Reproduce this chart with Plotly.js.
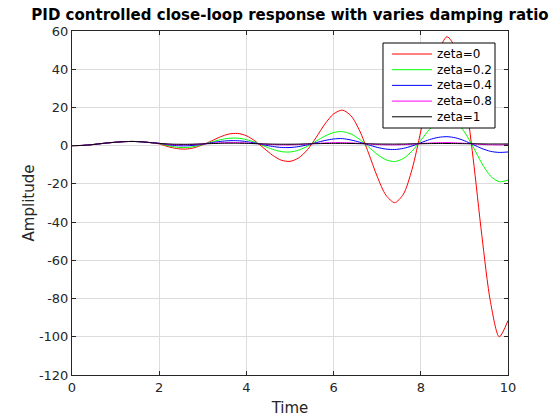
<!DOCTYPE html>
<html>
<head>
<meta charset="utf-8">
<script src="https://cdn.plot.ly/plotly-3.0.1.min.js"></script>
<style>html,body{margin:0;padding:0;background:#fff;}#chart{width:560px;height:420px;}</style>
</head>
<body>
<div id="chart"></div>
<script>
const time = [0,0.2,0.4,0.6,0.8,1.0,1.2,1.4,1.6,1.8,2.0,2.2,2.4,2.6,2.8,3.0,3.2,3.4,3.6,3.8,4.0,4.2,4.4,4.6,4.8,5.0,5.2,5.4,5.6,5.8,6.0,6.2,6.4,6.6,6.8,7.0,7.2,7.4,7.6,7.8,8.0,8.2,8.4,8.6,8.8,9.0,9.2,9.4,9.6,9.8,10.0];

const zeta0 = [0,0.1,0.4,0.9,1.4,1.8,2.1,2.2,2.0,1.6,0.9,-0.5,-1.5,-1.8,-1.1,0.5,2.5,4.6,6.1,6.4,5.2,2.4,-1.3,-5.0,-7.6,-8.2,-6.4,-2.1,4.3,11.3,16.6,18.6,15.6,7.7,-3.8,-16.1,-25.9,-29.8,-25.4,-12.3,7.6,29.8,48.5,57.0,50.8,28.6,-6.5,-47.0,-82.0,-100.0,-91.5];

const zeta02 = [0,0.1,0.4,0.9,1.4,1.8,2.1,2.2,2.0,1.6,1.1,0.0,-0.8,-1.0,-0.45,0.6,1.9,3.1,3.86,3.93,3.17,1.72,-0.14,-1.91,-3.11,-3.31,-2.34,-0.29,2.38,5.02,6.88,7.34,6.09,3.24,-0.61,-4.51,-7.39,-8.31,-6.72,-2.77,2.77,8.53,12.95,14.62,12.67,7.22,-0.7,-9.22,-15.94,-18.86,-18.0];

const zeta04 = [0,0.1,0.4,0.9,1.4,1.8,2.1,2.2,2.0,1.6,1.2,0.5,0.0,-0.1,0.2,0.77,1.54,2.21,2.59,2.59,2.14,1.37,0.44,-0.41,-0.93,-0.97,-0.48,0.44,1.58,2.7,3.5,3.7,2.95,1.81,0.43,-0.88,-1.78,-2.01,-1.42,-0.15,1.52,3.17,4.33,4.69,4.08,2.59,0.58,-1.48,-2.98,-3.54,-3.3];

const zeta08 = [0,0.1,0.4,0.9,1.4,1.8,2.1,2.2,2.0,1.6,1.2,0.75,0.5,0.5,0.65,0.91,1.21,1.46,1.59,1.57,1.4,1.12,0.82,0.56,0.42,0.42,0.58,0.85,1.15,1.42,1.58,1.58,1.44,1.18,0.88,0.6,0.43,0.41,0.54,0.79,1.09,1.37,1.56,1.6,1.48,1.24,0.94,0.65,0.46,0.4,0.5];

const zeta1 = [0,0.1,0.4,0.9,1.4,1.8,2.1,2.2,2.0,1.6,1.2,0.9,0.75,0.72,0.8,0.95,1.11,1.23,1.3,1.28,1.2,1.05,0.92,0.82,0.76,0.76,0.83,0.95,1.05,1.14,1.19,1.19,1.15,1.05,0.97,0.89,0.84,0.83,0.87,0.95,1.02,1.09,1.13,1.14,1.11,1.05,0.99,0.93,0.89,0.88,0.9];

const seriesNames = ["zeta=0","zeta=0.2","zeta=0.4","zeta=0.8","zeta=1"];
const seriesColors = ["#ff0000","#00ff00","#0000ff","#ff00ff","#000000"];
const seriesData = [zeta0, zeta02, zeta04, zeta08, zeta1];

const xTicks = [0,2,4,6,8,10];
const xTickText = ["0","2","4","6","8","10"];
const yTicks = [-120,-100,-80,-60,-40,-20,0,20,40,60];
const yTickText = ["-120","-100","-80","-60","-40","-20","0","20","40","60"];

const traces = seriesData.map((ys, i) => ({
  x: time, y: ys, type: "scatter", mode: "lines", name: seriesNames[i], showlegend: false,
  line: {color: seriesColors[i], width: 1, shape: "spline", smoothing: 0.8}
}));

// Legend box drawn in paper coordinates (MATLAB-style compact legend)
const legBox = {x0: 0.7133, x1: 0.9702, y0: 0.7180, y1: 0.9651};
const legRowY = [0.9331, 0.8875, 0.8419, 0.7962, 0.7506];
const legLineX = [0.7339, 0.8257];
const legTextX = 0.8326;

const shapes = [{type: "rect", xref: "paper", yref: "paper",
  x0: legBox.x0, x1: legBox.x1, y0: legBox.y0, y1: legBox.y1,
  line: {color: "#000", width: 1}, fillcolor: "#fff", layer: "above"}];
const annotations = [];
seriesNames.forEach((nm, i) => {
  shapes.push({type: "line", xref: "paper", yref: "paper",
    x0: legLineX[0], x1: legLineX[1], y0: legRowY[i], y1: legRowY[i],
    line: {color: seriesColors[i], width: 1}, layer: "above"});
  annotations.push({xref: "paper", yref: "paper", x: legTextX, y: legRowY[i],
    xanchor: "left", yanchor: "middle", text: nm, showarrow: false,
    font: {family: "DejaVu Sans, sans-serif", size: 12, color: "#000"}});
});

const font = "DejaVu Sans, sans-serif";
const layout = {
  width: 560, height: 420,
  margin: {l: 72, r: 52, t: 31, b: 45},
  paper_bgcolor: "#fff", plot_bgcolor: "#fff",
  font: {family: font, size: 13, color: "#262626"},
  title: {text: "<b>PID controlled close-loop response with varies damping ratio</b>",
          font: {family: font, size: 15, color: "#000"}, xref: "paper", x: 0.5, xanchor: "center", y: 0.966, yanchor: "middle"},
  xaxis: {range: [0, 10], tickvals: xTicks, ticktext: xTickText, ticks: "inside", ticklen: 4, tickcolor: "#262626",
          showline: true, linecolor: "#262626", linewidth: 1, mirror: "ticks",
          showgrid: true, gridcolor: "#dcdcdc", zeroline: false,
          title: {text: "Time", font: {family: font, size: 15, color: "#262626"}, standoff: 8},
          tickfont: {family: font, size: 13, color: "#262626"}},
  yaxis: {range: [-120, 60], tickvals: yTicks, ticktext: yTickText, ticks: "inside", ticklen: 4, tickcolor: "#262626",
          showline: true, linecolor: "#262626", linewidth: 1, mirror: "ticks",
          showgrid: true, gridcolor: "#dcdcdc", zeroline: false,
          title: {text: "Amplitude", font: {family: font, size: 15, color: "#262626"}, standoff: 0},
          tickfont: {family: font, size: 13, color: "#262626"}},
  shapes: shapes,
  annotations: annotations,
  showlegend: false
};

Plotly.newPlot("chart", traces, layout, {staticPlot: true, displayModeBar: false});
</script>
</body>
</html>
